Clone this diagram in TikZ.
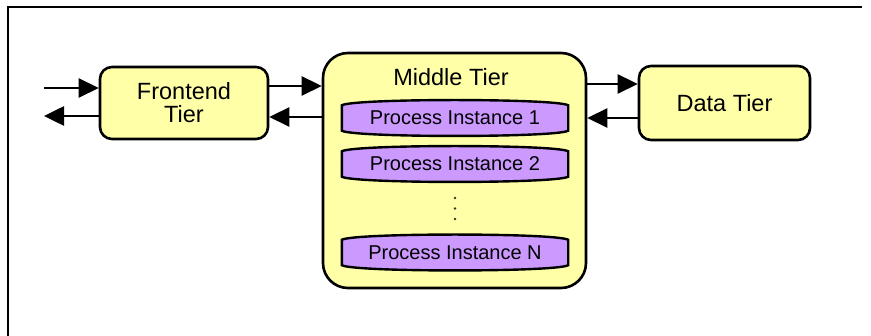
\documentclass[tikz,border=0pt]{standalone}
\usepackage{fontspec}
\setmainfont{Liberation Sans}
\usetikzlibrary{arrows.meta,calc}
\pgfdeclarelayer{back}
\pgfdeclarelayer{mid}
\pgfsetlayers{back,mid,main}
\definecolor{tieryellow}{HTML}{FFFFA8}
\definecolor{procpurple}{HTML}{CC99FF}
\begin{document}
\begin{tikzpicture}[x=1pt,y=-1pt,
  tierbox/.style={draw, line width=2.6pt, fill=tieryellow, rounded corners=12pt,
    font=\fontsize{23.5}{23}\selectfont, align=center, inner sep=0pt},
  tierlabel/.style={font=\fontsize{23.5}{23}\selectfont, inner sep=0pt},
  proctext/.style={font=\fontsize{20}{22}\selectfont, minimum width=226pt,
    minimum height=37pt, inner sep=0pt},
  procshape/.style={draw, line width=2.4pt, fill=procpurple},
  arr/.style={line width=2.6pt, -{Triangle[length=20pt,width=19pt]}},
  frame/.style={line width=2.6pt},
  dot/.style={fill=black!80, circle, inner sep=0pt, minimum size=2.6pt}
]
\useasboundingbox (0,0) rectangle (871,336);
\draw[frame] (862,7) -- (8,7) -- (8,336);

\node[tierbox, minimum width=168pt, minimum height=72pt] (fe) at (184,103) {Frontend\\Tier};
\node[tierbox, minimum width=171pt, minimum height=74pt] (dt) at (724.5,103) {Data Tier};
\begin{pgfonlayer}{back}
\node[tierbox, rounded corners=25pt, minimum width=263pt, minimum height=235pt] (mt) at (454.5,170.5) {};
\end{pgfonlayer}
\node[tierlabel] (mtl) at (451,77) {Middle Tier};

\node[proctext] (p1) at (455,118) {Process Instance 1};
\node[proctext] (p2) at (455,164) {Process Instance 2};
\node[proctext] (pn) at (455,252.5) {Process Instance N};
\node[dot] (d1) at (455,198) {};
\node[dot] (d2) at (455,208.5) {};
\node[dot] (d3) at (455,219) {};

\begin{pgfonlayer}{mid}
\foreach \n in {p1,p2,pn}{
  \draw[procshape]
    ($(\n.north west)+(0,6)$) .. controls ($(\n.north west)+(12,-1)$) and ($(\n.north east)+(-12,-1)$) .. ($(\n.north east)+(0,6)$)
    -- ($(\n.south east)+(0,-6)$) .. controls ($(\n.south east)+(-12,1)$) and ($(\n.south west)+(12,1)$) .. ($(\n.south west)+(0,-6)$)
    -- cycle;
}
\end{pgfonlayer}

\coordinate (in1) at (44,88);
\coordinate (out1) at (44,116);
\draw[arr] (in1) -- (in1 -| fe.west);
\draw[arr] (out1 -| fe.west) -- (out1);
\draw[arr] ([yshift=17pt]fe.east) -- ([yshift=17pt]fe.east -| mt.west);
\draw[arr] ([yshift=-14pt]fe.east -| mt.west) -- ([yshift=-14pt]fe.east);
\draw[arr] ([yshift=19pt]dt.west -| mt.east) -- ([yshift=19pt]dt.west);
\draw[arr] ([yshift=-15pt]dt.west) -- ([yshift=-15pt]dt.west -| mt.east);
\end{tikzpicture}
\end{document}
